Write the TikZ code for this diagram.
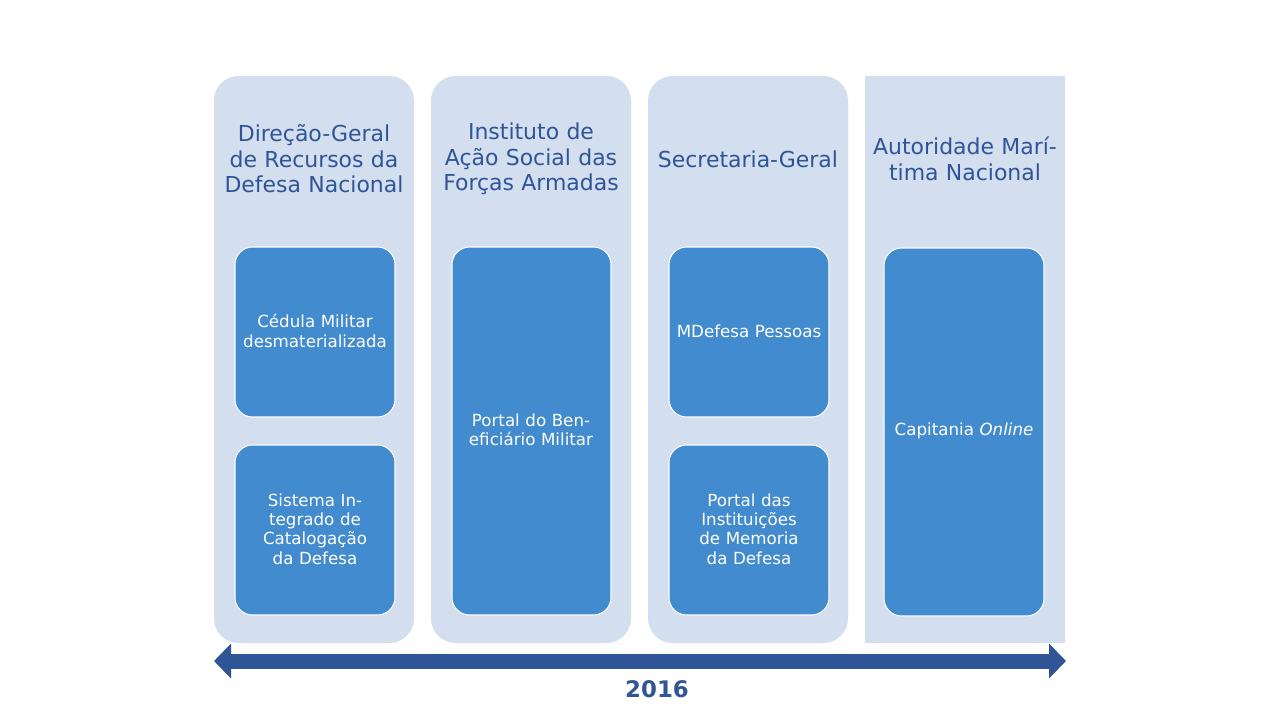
\documentclass[tikz,border=0pt]{standalone}
\usepackage{fontspec}
\setmainfont{DejaVu Sans}
\usetikzlibrary{arrows.meta}
\definecolor{colfill}{HTML}{D3DEEF}
\definecolor{boxfill}{HTML}{428BCE}
\definecolor{headblue}{HTML}{2F5597}
\tikzset{
  column/.style={fill=colfill, draw=none, rounded corners=14pt},
  head/.style={text=headblue, font=\fontsize{12.5}{14.5}\selectfont, align=center, text width=3.9cm},
  item/.style={fill=boxfill, draw=white, line width=0.6pt, rounded corners=10pt},
  itemtext/.style={text=white, font=\fontsize{9.5}{11}\selectfont, align=center, text width=2.9cm}
}
\begin{document}
\begin{tikzpicture}[x=0.02cm, y=-0.02cm]
\useasboundingbox[fill=white] (0,0) rectangle (1280,720);
% columns
\path[column] (214,76) rectangle (414,643);
\path[column] (431,76) rectangle (631,643);
\path[column] (648,76) rectangle (848,643);
\path[fill=colfill] (865,76) rectangle (1065,643);
% headers
\node[head] (h1) at (314,159) {Direção-Geral de Recursos da Defesa Nacional};
\node[head] (h2) at (531,159) {Instituto de Ação Social das Forças Armadas};
\node[head] (h3) at (748,159) {Secretaria-Geral};
\node[head] (h4) at (965,159) {Autoridade Marítima Nacional};
% items
\path[item] (235,247) rectangle (395,417);
\node[itemtext] (c1) at (315,331) {Cédula Militar desmaterializada};
\path[item] (235,445) rectangle (395,615);
\node[itemtext] (c2) at (315,529) {Sistema Integrado de Catalogação da Defesa};
\path[item] (452,247) rectangle (611,615);
\node[itemtext] (c3) at (531,430) {Portal do Beneficiário Militar};
\path[item] (669,247) rectangle (829,417);
\node[itemtext] (c4) at (749,331) {MDefesa Pessoas};
\path[item] (669,445) rectangle (829,615);
\node[itemtext] (c5) at (749,529) {Portal das Instituições de Memoria da Defesa};
\path[item] (884,248) rectangle (1044,616);
\node[itemtext] (c6) at (964,431) {Capitania \textit{Online}};
% timeline
\coordinate (tl) at (214,661);
\coordinate (tr) at (1066,661);
\draw[headblue, line width=0.3cm, {Triangle[length=0.34cm,width=0.68cm]}-{Triangle[length=0.34cm,width=0.68cm]}] (tl) -- (tr);
\node[text=headblue, font=\fontsize{13}{15}\selectfont\bfseries] (yr) at (657,689) {2016};
\end{tikzpicture}
\end{document}
